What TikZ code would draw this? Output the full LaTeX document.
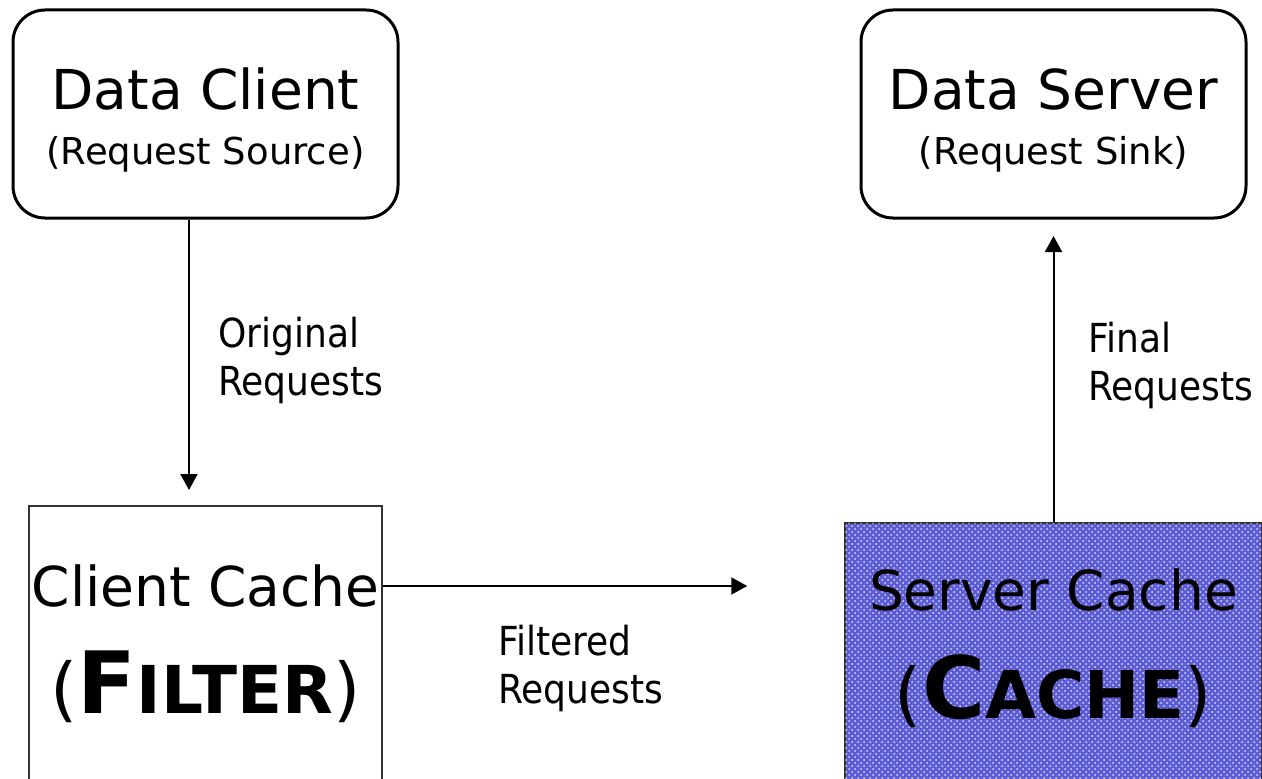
\documentclass[tikz,border=0pt]{standalone}
\usepackage{fontspec}
\setmainfont{DejaVu Sans}
\newfontfamily\labelfont{DejaVu Sans Condensed}
\usetikzlibrary{arrows.meta,positioning,patterns}
\tikzset{
      endpoint/.style = {draw, line width=1.5pt, rounded corners=16pt,
                         minimum width=192.5pt, minimum height=104pt,
                         inner sep=0pt, align=center,
                         font=\fontsize{27.5}{27.5}\selectfont},
      filterbox/.style = {draw=black!80, line width=1pt,
                          minimum width=176.5pt, minimum height=150pt},
      cachebox/.style = {filterbox, minimum width=208.25pt,
                         fill={rgb,255:red,92;green,92;blue,212},
                         postaction={pattern=crosshatch dots, pattern color=white!85!blue}},
      flow/.style = {black, line width=1pt, ->, >={Triangle[length=8pt,width=8.5pt]}},
      reqlabel/.style = {font=\labelfont\fontsize{20}{24}\selectfont,
                         align=left, anchor=base west, inner sep=0pt},
      boxname/.style = {font=\fontsize{27.5}{27.5}\selectfont, anchor=base, inner sep=0pt},
      boxrole/.style = {anchor=base, inner sep=0pt},
    }
% (Xyz) with a bold first letter and smaller bold caps after it
\newcommand{\rolecaps}[2]{{\fontsize{35}{35}\selectfont(}{\bfseries
  \fontsize{43}{43}\selectfont #1\fontsize{33}{33}\selectfont #2}{\fontsize{35}{35}\selectfont)}}

\begin{document}
\begin{tikzpicture}[node distance=424pt, on grid]
    \useasboundingbox (0,0) rectangle (631pt,389pt);
    \clip (0,0) rectangle (631pt,389pt);

    % the two ends of the request stream
    \node [endpoint] (client) at (102.75pt,332pt)
        {\rule{0pt}{27pt}Data Client\\{\fontsize{18.5}{22}\selectfont(Request Source)}};
    \node [endpoint] (server) [right=424pt of client]
        {\rule{0pt}{27pt}Data Server\\{\fontsize{18.5}{22}\selectfont(Request Sink)}};

    % the two caches, running off the bottom edge
    \node [filterbox] (filter) [below=271pt of client] {};
    \node [cachebox] (cache) [below=279.5pt of server] {};

    \node [boxname] (filtername) at ([yshift=-50.5pt]filter.north) {Client Cache};
    \node [boxrole] (filterrole) at ([yshift=-104pt]filter.north) {\rolecaps{F}{ILTER}};
    \node [boxname] (cachename) at ([yshift=-44pt]cache.north) {Server Cache};
    \node [boxrole] (cacherole) at ([yshift=-98pt]cache.north) {\rolecaps{C}{ACHE}};

    % request flow
    \draw [flow, shorten >=7.5pt] ([xshift=-8.25pt]client.south) -- ([xshift=-8.25pt]filter.north);
    \draw [flow, shorten >=48.5pt] ([yshift=-40.5pt]filter.north east) -- ([yshift=-32pt]cache.north west);
    \draw [flow, shorten >=8.25pt] (cache.north) -- (server.south);

    % labels, anchored at the baseline of their second line
    \node [reqlabel] (origlabel) at (109pt,191.5pt) {Original\\Requests};
    \node [reqlabel] (filtlabel) at (249pt,37.5pt) {Filtered\\Requests};
    \node [reqlabel] (finallabel) at (544pt,189pt) {Final\\Requests};
\end{tikzpicture}
\end{document}
